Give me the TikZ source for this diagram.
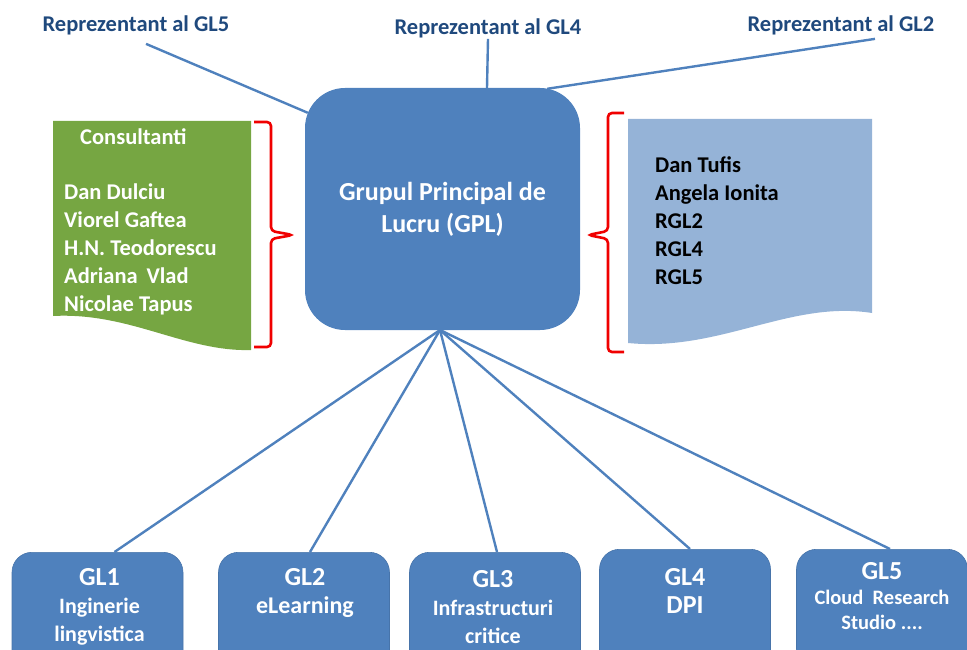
\documentclass[tikz,border=0pt]{standalone}
\usepackage{fontspec}
\setmainfont{Carlito}
\usetikzlibrary{calc,positioning}
\definecolor{office}{HTML}{4F81BD}
\definecolor{navy}{HTML}{1F497D}
\definecolor{leaf}{HTML}{76A642}
\definecolor{pale}{HTML}{95B3D7}
\definecolor{brace}{HTML}{F00000}
\tikzset{
  rep/.style={text=navy, font=\fontsize{22.5}{26}\selectfont\bfseries, inner sep=1pt},
  main/.style={rectangle, rounded corners=40pt, fill=office, text=white,
    minimum width=275pt, minimum height=242pt, align=center,
    font=\fontsize{26}{32}\selectfont\bfseries},
  glbox/.style={rectangle, rounded corners=20pt, fill=office, draw=office!90!black,
    line width=0.6pt, minimum width=171pt, minimum height=120pt, anchor=north},
  gltext/.style={text=white, align=center, anchor=north, inner sep=0pt,
    font=\fontsize{22}{28}\selectfont\bfseries},
  list/.style={align=left, anchor=north west, inner sep=0pt,
    font=\fontsize{22.5}{28}\selectfont\bfseries},
  link/.style={draw=office, line width=2.4pt},
  bracket/.style={draw=brace, line width=2.6pt, rounded corners=4pt}
}
\newcommand{\glname}[1]{{\fontsize{26}{28}\selectfont #1}}
\begin{document}
\begin{tikzpicture}[x=1pt,y=-1pt]
  \useasboundingbox (0,0) rectangle (967,650);
  \clip (0,0) rectangle (967,650);

  % representatives on top
  \node[rep] (rep5) at (136,25) {Reprezentant al GL5};
  \node[rep] (rep4) at (488,28) {Reprezentant al GL4};
  \node[rep] (rep2) at (841,25) {Reprezentant al GL2};

  % main group
  \node[main] (gpl) at (442.5,209) {Grupul Principal de\\Lucru (GPL)};

  \draw[link] ($(rep5.south)+(10,8)$) -- ($(gpl.north west)+(3,25)$);
  \draw[link] (rep4.south) -- ($(gpl.north)+(44.5,0)$);
  \draw[link] ($(rep2.south)+(34,3)$) -- ($(gpl.north east)+(-33,1)$);

  % consultants (green document)
  \fill[leaf] (53,121) -- (251,121) -- (251,350)
    .. controls (185,352) and (130,312) .. (53,316) -- cycle;
  \node[list, text=white] (constitle) at (80,128) {Consultanti};
  \node[list, text=white] (conslist) at (64,184)
    {Dan Dulciu\\Viorel Gaftea\\H.N. Teodorescu\\Adriana\ \,Vlad\\Nicolae Tapus};
  \draw[bracket] (254,122) -- (271,122) -- (271,231) -- (293,235)
    -- (271,239) -- (271,347) -- (254,347);

  % members (blue document)
  \fill[pale] (628,119) -- (872,119) -- (872,313)
    .. controls (790,300) and (720,352) .. (628,343) -- cycle;
  \node[list] (members) at (655,156)
    {Dan Tufis\\Angela Ionita\\RGL2\\RGL4\\RGL5};
  \draw[bracket] (624,113) -- (608,113) -- (608,231) -- (588,235)
    -- (608,239) -- (608,352) -- (624,352);

  % working groups
  \node[glbox] (gl1) at (97.5,552) {};
  \node[glbox] (gl2) at (304,552) {};
  \node[glbox] (gl3) at (495,552) {};
  \node[glbox] (gl4) at (685,549) {};
  \node[glbox] (gl5) at (882,549) {};

  \node[gltext] (t1) at ($(gl1.north)+(2,16)$) {\glname{GL1}\\Inginerie\\lingvistica};
  \node[gltext] (t2) at ($(gl2.north)+(1,16)$) {\glname{GL2}\\{\fontsize{24}{28}\selectfont eLearning}};
  \node[gltext] (t3) at ($(gl3.north)+(-2,18)$) {\glname{GL3}\\Infrastructuri\\critice};
  \node[gltext] (t4) at ($(gl4.north)+(0,19)$) {\glname{GL4}\\{\fontsize{26}{28}\selectfont DPI}};
  \node[gltext, font=\fontsize{20.5}{25}\selectfont\bfseries] (t5) at ($(gl5.north)+(0,13)$)
    {\glname{GL5}\\Cloud\ \ Research\\Studio ....};

  \coordinate (hub) at (440,330);
  \draw[link] (hub) -- ($(gl1.north)+(17,0)$);
  \draw[link] (hub) -- ($(gl2.north)+(6,0)$);
  \draw[link] (hub) -- ($(gl3.north)+(2,0)$);
  \draw[link] (hub) -- ($(gl4.north)+(5,0)$);
  \draw[link] (hub) -- ($(gl5.north)+(8,0)$);
\end{tikzpicture}
\end{document}
